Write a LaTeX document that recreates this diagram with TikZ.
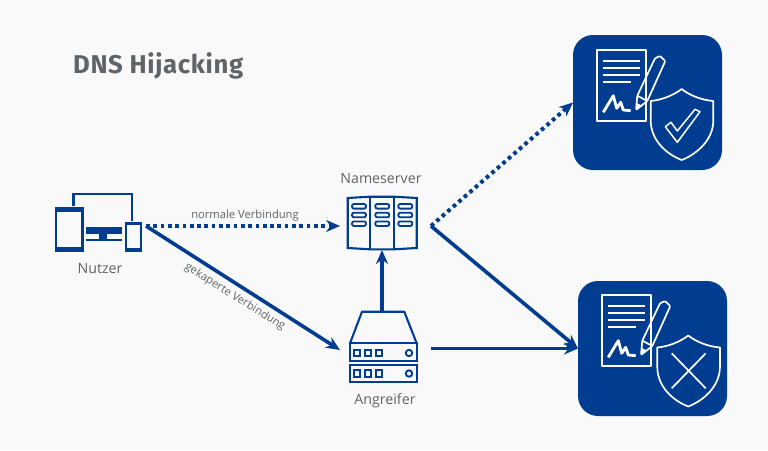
\documentclass[tikz,border=0pt]{standalone}
\usepackage{fontspec}
\setmainfont{Open Sans}
\newfontfamily\titlefont[LetterSpace=2.5]{Fira Sans}
\usetikzlibrary{arrows.meta}
\definecolor{dnsBlue}{HTML}{003C8F}
\definecolor{bgGrey}{HTML}{F9F9F9}
\definecolor{textGrey}{HTML}{5F6468}
\tikzset{
  icon/.style = {draw = dnsBlue, line width = 2.1pt},
  white icon/.style = {draw = white, line width = 1.7pt, line join = round},
  area/.style = {inner sep = 0pt, outer sep = 0pt},
  label/.style = {text = textGrey, inner sep = 0pt, font = \fontsize{14.2}{16}\selectfont},
  small label/.style = {text = textGrey, inner sep = 0pt, font = \fontsize{11.2}{13}\selectfont},
  link/.style = {draw = dnsBlue, line width = 3.6pt, -{Stealth[length = 14pt, width = 12pt]}},
  dotted link/.style = {link, line width = 4pt, dash pattern = on 3.7pt off 3.6pt},
  docbox/.style = {area, fill = dnsBlue, rounded corners = 20pt, minimum width = 149pt, minimum height = 135pt},
  paper/.pic = {
    \draw[white icon] (596.7,50) rectangle (646,120.7);
    \foreach \y in {60.7, 67.7, 74.7}
      \draw[white icon] (602.7,\y) -- (640,\y);
    \draw[white icon] (602.7,81.7) -- (631,81.7);
    % signature
    \draw[white icon, line width = 2.8pt] (603.3,112.3) -- (613.3,95.7) -- (616.7,108.3) -- (620.7,102.3) -- (623.3,110) -- (630.7,110.7);
    % pencil
    \draw[white icon, rounded corners = 1pt] (636,110) -- (637.3,95.7) -- (655,58.3) -- (660,56) -- (665.3,61) -- (647.3,101) -- cycle;
    \draw[white icon] (637.3,95.7) -- (647.3,101);
    \fill[white] (636,110) -- (636.6,103) -- (642,105.5) -- cycle;
  },
  shield/.pic = {
    \draw[white icon] (650.7,101) .. controls (662,100) and (674,95) .. (681.7,89) .. controls (689,95) and (701,100) .. (713.3,101) -- (713.3,121) .. controls (713,140) and (697,154) .. (681.7,160) .. controls (666,154) and (651,140) .. (650.7,121) -- cycle;
  }
}

\begin{document}
\begin{tikzpicture}[x = 1pt, y = -1pt]
  \fill[bgGrey] (0,0) rectangle (768,450);
  \useasboundingbox (0,0) rectangle (768,450);

  \node[anchor = west, text = textGrey, inner sep = 0pt, font = \titlefont\bfseries\fontsize{25.7}{28}\selectfont] (title) at (73,66) {DNS Hijacking};

  % nodes
  \node[area, minimum width = 87pt, minimum height = 58pt] (nutzer) at (98.5,223) {};
  \node[area, minimum width = 84pt, minimum height = 48pt] (nameserver) at (382,226) {};
  \node[area, minimum width = 84pt, minimum height = 76pt] (angreifer) at (382,348.5) {};
  \node[docbox] (okBox) at (647.5,102.5) {};
  \node[docbox] (badBox) at (652.5,348.5) {};
  \coordinate (nutzerOut) at (146,226);

  \node[label] (nutzerText) at (100,268) {Nutzer};
  \node[label] (nameserverText) at (381,178) {Nameserver};
  \node[label] (angreiferText) at (385,401) {Angreifer};
  \node[small label] (normalText) at (245,216) {normale Verbindung};
  \node[small label, rotate = -32] (hijackText) at (235,297) {gekaperte Verbindung};

  % nutzer
  \draw[icon, line width = 2.4pt] (56.2,208) rectangle (82.3,251);
  \fill[dnsBlue] (55,207) rectangle (83.5,212);
  \fill[dnsBlue] (55,247) rectangle (83.5,252);
  \draw[icon] (73.5,206) -- (73.5,194) -- (132,194) -- (132,221);
  \fill[dnsBlue] (85.7,227) rectangle (121.7,234);
  \fill[dnsBlue] (98.5,234) rectangle (106.7,239);
  \fill[dnsBlue] (85.7,239) rectangle (121.7,241);
  \draw[icon] (125.7,223) rectangle (140.7,251);
  \fill[dnsBlue] (125,222) rectangle (141.5,225);
  \fill[dnsBlue] (125,248) rectangle (141.5,252);

  % nameserver
  \draw[icon] (347.7,198) -- (370,196.7) -- (394,196.7) -- (416.7,198) -- (416.7,248) -- (394,249.3) -- (370,249.3) -- (347.7,248) -- cycle;
  \draw[icon] (370,196.7) -- (370,249.3);
  \draw[icon] (394,196.7) -- (394,249.3);
  \foreach \x in {359, 382.3, 405.3}
    \foreach \y in {206.3, 215, 223.7}
      \draw[icon, line width = 1.8pt, rounded corners = 2pt] (\x-7,\y-2.3) rectangle (\x+7,\y+2.3);

  % angreifer
  \draw[icon, line join = round] (350,343.3) -- (362,311.7) -- (404.3,311.7) -- (416.7,343.3);
  \draw[icon] (350,343.3) rectangle (417,361);
  \draw[icon] (350,365.3) rectangle (417,381.7);
  \foreach \y in {353, 373.5} {
    \foreach \x in {357, 368, 379}
      \draw[icon, line width = 1.9pt] (\x-3,\y-3.2) rectangle (\x+3,\y+3.2);
    \draw[icon, line width = 1.9pt] (409,\y) circle (3.2);
  }

  % signed documents
  \pic at (0,0) {paper};
  \pic at (0,0) {shield};
  \draw[white icon, line width = 1.5pt] (665.3,126.7) -- (671,122.3) -- (677.3,131) -- (695,109.3) -- (700,111.7) -- (677.3,142.3) -- cycle;
  \pic at (5,245) {paper};
  \pic at (6.6,246.5) {shield};
  \draw[white icon] (671.7,353.3) -- (705.7,388.3);
  \draw[white icon] (705.7,353.3) -- (671.7,388.3);

  % connectors
  \draw[dotted link] (nutzerOut) -- (nameserver.west);
  \draw[link] (nutzerOut) -- ([yshift = -1.5pt]angreifer.west);
  \draw[link] (angreifer.north) -- (nameserver.south);
  \draw[dotted link] ([xshift = 7pt]nameserver.east) -- (okBox.west);
  \draw[link] ([xshift = 7pt]nameserver.east) -- (badBox.west);
  \draw[link] ([xshift = 7pt]angreifer.east) -- (badBox.west);
\end{tikzpicture}
\end{document}
